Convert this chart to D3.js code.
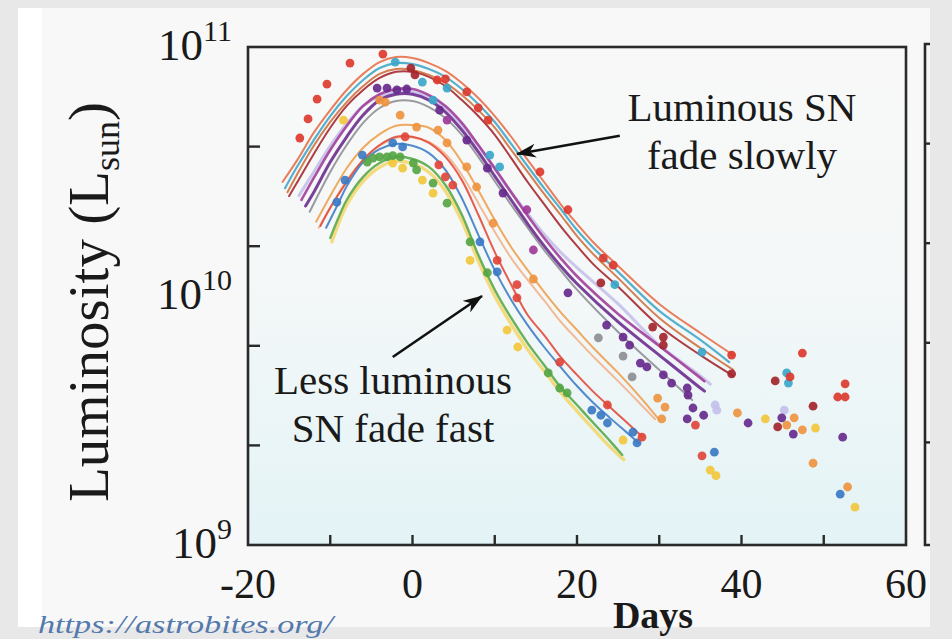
<!DOCTYPE html>
<html>
<head>
<meta charset="utf-8">
<script src="https://cdn.jsdelivr.net/npm/d3@7"></script>
<style>
  html, body { margin: 0; padding: 0; background: #e8e8e8; }
  svg { display: block; }
  text { font-family: "Liberation Serif", "Times New Roman", serif; fill: #1a1a1a; }
</style>
</head>
<body>
<svg id="chart" width="952" height="639"></svg>
<script>
// Type Ia supernova light curves: luminosity (units of 1e9 L_sun) vs days from peak.

// Axis ticks
const xTickDays = [-20, -10, 0, 10, 20, 30, 40, 50, 60];
const xTickLabels = [-20, 0, 20, 40, 60];
const yDecades = [1, 10, 100];          // 1e9, 1e10, 1e11 L_sun
const yDecadeExponents = [9, 10, 11];
const yMagnitudeSteps = [1, 2, 3, 4];   // minor ticks every magnitude (0.4 dex)

// Fitted light curves: [day, luminosity / 1e9 L_sun]
const curveOrangeRed = [[-15.8,28.7],[-14,35.2],[-12,45.3],[-10,55.8],[-8,67.2],[-6,78.0],[-4,87.0],[-2,91.2],[0,90.4],[2,86.2],[4,80.2],[6,71.7],[8,62.4],[10,52.8],[12,43.6],[14,35.2],[16,28.7],[18,23.4],[20,19.5],[22,16.4],[25,13.2],[30,9.29],[35,7.10],[39,5.79]];
const curveTeal = [[-15.5,27.1],[-14,33.2],[-12,42.3],[-10,52.8],[-8,63.5],[-6,73.7],[-4,82.3],[-2,86.2],[0,85.4],[2,81.6],[4,75.9],[6,67.8],[8,58.9],[10,50.0],[12,40.8],[14,33.2],[16,27.1],[18,22.4],[20,18.4],[22,15.6],[25,12.5],[30,8.72],[35,6.66],[38.5,5.43]];
const curveBrown = [[-15.2,26.1],[-14,30.9],[-12,40.1],[-10,50.0],[-8,60.1],[-6,69.7],[-4,78.0],[-2,81.6],[0,80.9],[2,77.3],[4,71.7],[6,64.1],[8,55.8],[10,47.4],[12,38.6],[14,31.5],[16,25.7],[18,21.2],[20,17.4],[22,14.7],[25,11.8],[30,8.16],[35,6.18],[39,5.05]];
const curveMaroon = [[-15,25.2],[-14,28.7],[-12,37.2],[-10,47.4],[-8,58.0],[-6,67.2],[-4,75.1],[-2,79.5],[0,79.5],[2,75.9],[4,69.7],[6,61.2],[8,52.8],[10,44.4],[12,35.8],[14,28.7],[16,23.4],[18,19.1],[20,15.9],[22,13.4],[25,10.9],[30,7.58],[35,5.79],[39,4.78]];
const curveViolet = [[-13.5,24.3],[-12,29.8],[-10,38.6],[-8,48.2],[-6,58.0],[-4,64.6],[-2,67.8],[0,67.8],[2,64.1],[4,58.0],[6,49.6],[8,40.4],[10,32.6],[12,26.1],[14,21.0],[16,17.1],[18,14.2],[20,12.0],[25,8.47],[30,6.30],[35,4.69],[35.5,4.55]];
const curvePurple = [[-13,23.0],[-12,26.1],[-10,34.5],[-8,43.6],[-6,53.3],[-4,61.2],[-2,64.6],[0,64.6],[2,61.2],[4,54.8],[6,46.4],[8,37.9],[10,30.3],[12,24.3],[14,19.5],[16,15.9],[18,13.2],[20,11.2],[25,7.87],[30,5.79],[35,4.27],[35.5,4.15]];
const curveLavender = [[-13.8,25.3],[-12,31.5],[-10,40.1],[-8,49.2],[-6,58.0],[-4,63.5],[-2,66.0],[0,66.0],[2,63.0],[4,56.9],[6,48.6],[8,40.1],[10,32.4],[12,26.1],[14,21.4],[16,17.7],[18,15.0],[20,13.0],[25,9.29],[30,6.35],[35,4.78],[36.2,4.43]];
const curveGray = [[-12.5,21.8],[-10,31.5],[-8,40.4],[-6,49.6],[-4,56.9],[-2,60.7],[0,60.7],[2,57.4],[4,51.9],[6,44.4],[8,36.2],[10,28.9],[12,23.2],[14,18.8],[16,15.3],[18,12.7],[20,10.6],[25,7.17],[30,5.05],[34,3.82]];
const curveOrange = [[-11.7,19.9],[-10,25.2],[-8,32.6],[-6,39.4],[-4,44.7],[-2,48.3],[0,48.6],[2,47.4],[4,42.3],[6,34.5],[8,26.6],[10,20.2],[12,15.7],[14,12.7],[16,10.4],[18,8.62],[20,7.30],[22,6.18],[25,4.91],[28,3.82],[30,3.18]];
const curvePeach = [[-11.4,18.8],[-10,22.6],[-8,29.2],[-6,35.2],[-4,40.1],[-2,43.1],[0,43.3],[2,41.6],[4,37.2],[6,30.6],[8,23.6],[10,18.1],[12,14.2],[14,11.6],[16,9.6],[18,7.9],[20,6.7],[22,5.7],[25,4.55],[28,3.6],[29.5,3.2]];
const curveRed = [[-11.2,19.1],[-10,22.6],[-8,28.7],[-6,35.2],[-4,40.4],[-2,43.6],[0,43.6],[2,41.2],[4,36.2],[6,29.2],[8,21.2],[10,15.0],[12,11.1],[14,8.39],[16,6.97],[18,5.69],[20,4.82],[22,4.12],[24,3.58],[26,3.12],[28,2.71]];
const curveBlue = [[-10.5,18.8],[-9,23.6],[-8,27.6],[-6,34.5],[-4,38.9],[-2,40.8],[0,40.1],[2,37.5],[4,32.1],[6,24.7],[8,17.6],[10,12.7],[12,9.64],[14,7.64],[16,6.24],[18,5.19],[20,4.35],[22,3.72],[24,3.24],[26,2.84],[27.5,2.57]];
const curveYellow = [[-9.8,16.5],[-8,23.2],[-6,28.9],[-4,32.9],[-2,34.8],[0,34.0],[2,31.4],[4,26.4],[6,20.0],[8,13.8],[10,10.0],[12,7.7],[14,6.1],[16,5.0],[18,4.1],[20,3.45],[22,2.92],[24,2.48],[25.7,2.2]];
const curveGreen = [[-10,17.1],[-9,20.6],[-8,24.3],[-6,30.1],[-4,34.2],[-2,36.2],[0,35.5],[2,33.0],[4,27.9],[6,21.2],[8,14.6],[10,10.6],[12,8.16],[14,6.47],[16,5.28],[18,4.31],[20,3.65],[22,3.09],[24,2.62],[25.5,2.30]];

// Observed photometry: [day, luminosity / 1e9 L_sun]
const dotsRed = [[-13.7,43.1],[-12.7,51.4],[-11.6,61.8],[-10.4,71.0],[-7.6,86.2],[-3.6,93.7],[3.0,73.7],[4.0,74.4],[6.6,66.0],[8.0,56.9],[9.2,50.9],[15.5,31.5],[18.9,22.2],[23.2,14.2],[24.4,13.3],[38.8,5.79],[47.4,5.9],[45.9,4.73],[52.6,4.44],[51.7,3.93],[52.6,3.93]];
const dotsMaroon = [[-0.2,82.3],[0.3,77.3],[22.9,11.3],[29.2,7.5],[30.5,6.84],[30.5,6.35],[38.8,4.87],[44.1,4.56],[48.7,3.61],[44.4,2.98]];
const dotsTeal = [[-2.1,87.0],[1.2,72.3],[4.2,68.4],[2.5,61.2],[9.4,36.8],[10.6,33.0],[24.6,11.1],[35.2,5.95],[45.5,4.91],[45.7,4.47]];
const dotsPurple = [[-4.3,68.4],[-3.1,68.4],[-1.9,67.2],[-0.7,67.8],[3.3,55.8],[6.6,42.3],[9.1,32.6],[11.0,25.9],[18.9,10.3],[23.6,7.64],[25.6,6.84],[26.4,6.35],[27.7,5.38],[28.5,5.19],[30.5,4.82],[31.5,4.47],[33.4,4.27],[33.5,4.0],[34.1,3.55],[35.4,3.32],[33.4,3.21],[40.8,3.09],[44.9,3.24],[46.3,2.79],[52.3,2.71]];
const dotsViolet = [[4.2,50.9],[13.9,22.2],[14.7,15.3]];
const dotsLavender = [[36.8,3.65],[37.0,3.48],[45.2,3.48]];
const dotsGray = [[22.6,6.79],[25.6,5.74],[26.7,4.73]];
const dotsOrange = [[-4.0,61.2],[-3.3,60.1],[-1.5,53.3],[0.5,47.7],[3.1,46.4],[4.2,41.2],[6.6,33.0],[7.8,27.4],[9.8,19.6],[14.7,11.7],[29.8,3.89],[30.7,3.58],[30.3,3.21],[39.5,3.39],[46.4,3.24],[45.5,3.03],[47.4,2.90],[48.7,2.13],[52.9,1.71]];
const dotsRedLow = [[-0.9,43.6],[3.2,33.6],[4.0,30.1],[4.9,27.9],[10.3,13.9],[12.7,11.1],[12.7,9.83],[17.9,5.43],[23.7,3.65],[27.9,2.71],[34.4,3.03],[35.2,2.28]];
const dotsBlue = [[-9.2,23.8],[-8.2,29.2],[-6.1,36.8],[-2.4,41.2],[-1.2,39.7],[8.2,16.5],[10.3,12.5],[21.8,3.48],[22.9,3.32],[23.7,3.09],[26.8,2.84],[27.3,2.57],[36.7,2.36],[52.0,1.60]];
const dotsGreen = [[-5.5,34.5],[-4.8,35.8],[-4.0,36.2],[-3.1,36.2],[-2.4,36.6],[-1.5,36.2],[0.1,34.2],[0.5,32.1],[2.5,28.4],[4.2,23.6],[7.0,16.5],[9.1,12.4],[16.5,4.91],[17.9,4.27],[18.8,4.08]];
const dotsYellow = [[-8.4,50.9],[-2.4,34.2],[-1.2,32.6],[1.2,29.2],[2.5,25.9],[7.0,13.9],[11.5,7.30],[12.8,6.24],[25.6,2.64],[42.9,3.21],[49.0,2.95],[36.2,2.0],[36.9,1.9],[53.8,1.42]];

// Annotation anchors: [day, luminosity / 1e9 L_sun]
const arrowSlow = [[25.2, 44.0], [12.7, 37.2]];
const arrowFast = [[-2.4, 5.69], [8.45, 10.0]];

// Styles
const curveStyles = [
  { data: curveYellow,    color: "#f3d257", width: 3.4, opacity: 0.75 },
  { data: curveGray,      color: "#8f8f95", width: 2,   opacity: 0.9 },
  { data: curveLavender,  color: "#c6c0ea", width: 3,   opacity: 0.9 },
  { data: curveViolet,    color: "#a23e99", width: 2.6, opacity: 0.9 },
  { data: curvePurple,    color: "#6c2c8e", width: 3,   opacity: 0.9 },
  { data: curveMaroon,    color: "#a5282f", width: 2,   opacity: 0.9 },
  { data: curveBrown,     color: "#d0703e", width: 2,   opacity: 0.9 },
  { data: curveTeal,      color: "#42a7c7", width: 2.2, opacity: 0.9 },
  { data: curveOrangeRed, color: "#e8704a", width: 2,   opacity: 0.9 },
  { data: curveOrange,    color: "#f0a04e", width: 2,   opacity: 0.9 },
  { data: curvePeach,     color: "#f3b38d", width: 2,   opacity: 0.9 },
  { data: curveRed,       color: "#e34b3d", width: 2,   opacity: 0.9 },
  { data: curveBlue,      color: "#3f7ec6", width: 2,   opacity: 0.9 },
  { data: curveGreen,     color: "#5aa84a", width: 2.4, opacity: 0.9 }
];
const dotStyles = [
  { data: dotsLavender, color: "#c4c0ec" },
  { data: dotsGray,     color: "#8e8e94" },
  { data: dotsYellow,   color: "#f2c73c" },
  { data: dotsOrange,   color: "#ee9440" },
  { data: dotsGreen,    color: "#55a545" },
  { data: dotsBlue,     color: "#3b79c4" },
  { data: dotsRedLow,   color: "#e0453a" },
  { data: dotsViolet,   color: "#a0389a" },
  { data: dotsPurple,   color: "#672a8c" },
  { data: dotsTeal,     color: "#3aa7c9" },
  { data: dotsMaroon,   color: "#a4252d" },
  { data: dotsRed,      color: "#dc3a2e" }
];

const svg = d3.select("#chart");
const W = 952, H = 639;
const plot = { left: 248, right: 906, top: 47, bottom: 545 };

const x = d3.scaleLinear().domain([-20, 60]).range([plot.left, plot.right]);
const y = d3.scaleLog().domain([1, 100]).range([plot.bottom, plot.top]);

const defs = svg.append("defs");
const grad = defs.append("linearGradient").attr("id", "plotBg")
  .attr("x1", 0).attr("y1", 0).attr("x2", 0).attr("y2", 1);
grad.append("stop").attr("offset", "0%").attr("stop-color", "#f8f8f8");
grad.append("stop").attr("offset", "45%").attr("stop-color", "#f5f8f8");
grad.append("stop").attr("offset", "100%").attr("stop-color", "#e3f3f6");
defs.append("clipPath").attr("id", "plotClip").append("rect")
  .attr("x", plot.left).attr("y", plot.top)
  .attr("width", plot.right - plot.left).attr("height", plot.bottom - plot.top);

// Page background and white card
svg.append("rect").attr("width", W).attr("height", H).attr("fill", "#e8e8e8");
svg.append("rect").attr("x", 18).attr("y", 8).attr("width", 912).attr("height", 619).attr("fill", "#f8f8f8");
svg.append("rect").attr("x", 18).attr("y", 8).attr("width", 24).attr("height", 619).attr("fill", "#ffffff");

// Plot background
svg.append("rect")
  .attr("x", plot.left).attr("y", plot.top)
  .attr("width", plot.right - plot.left).attr("height", plot.bottom - plot.top)
  .attr("fill", "url(#plotBg)");

// Light curves
const line = d3.line()
  .x(d => x(d[0]))
  .y(d => y(d[1]))
  .curve(d3.curveCatmullRom.alpha(0.5));

const gCurves = svg.append("g").attr("clip-path", "url(#plotClip)");
gCurves.selectAll("path.curve")
  .data(curveStyles)
  .join("path")
  .attr("class", "curve")
  .attr("d", d => line(d.data))
  .attr("fill", "none")
  .attr("stroke", d => d.color)
  .attr("stroke-width", d => d.width)
  .attr("stroke-linecap", "round")
  .attr("stroke-opacity", d => d.opacity);

// Observations
const gDots = svg.append("g").attr("clip-path", "url(#plotClip)");
dotStyles.forEach(s => {
  gDots.selectAll(null)
    .data(s.data)
    .join("circle")
    .attr("cx", d => x(d[0]))
    .attr("cy", d => y(d[1]))
    .attr("r", 4.4)
    .attr("fill", s.color)
    .attr("fill-opacity", 0.92);
});

// Frame
svg.append("rect")
  .attr("x", plot.left).attr("y", plot.top)
  .attr("width", plot.right - plot.left).attr("height", plot.bottom - plot.top)
  .attr("fill", "none").attr("stroke", "#2a2a2a").attr("stroke-width", 2.6);

// Bottom ticks (inward)
svg.append("g").selectAll("line")
  .data(xTickDays.slice(1, -1))
  .join("line")
  .attr("x1", d => x(d)).attr("x2", d => x(d))
  .attr("y1", plot.bottom).attr("y2", plot.bottom - 10)
  .attr("stroke", "#2a2a2a").attr("stroke-width", 2.4);

// Left ticks (inward), one per magnitude
const magValue = m => Math.pow(10, 0.4 * m);
svg.append("g").selectAll("line")
  .data(yMagnitudeSteps)
  .join("line")
  .attr("x1", plot.left).attr("x2", plot.left + 12)
  .attr("y1", d => y(magValue(d))).attr("y2", d => y(magValue(d)))
  .attr("stroke", "#2a2a2a").attr("stroke-width", 2.4);

// Neighbouring panel edge
const px = 925;
svg.append("path")
  .attr("d", `M${px + 8},${plot.top - 3} H${px} V${plot.bottom} H${px + 8}`)
  .attr("fill", "none").attr("stroke", "#2a2a2a").attr("stroke-width", 2.6);
svg.append("g").selectAll("line")
  .data(yMagnitudeSteps)
  .join("line")
  .attr("x1", px).attr("x2", px + 8)
  .attr("y1", d => y(magValue(d)) - 3).attr("y2", d => y(magValue(d)) - 3)
  .attr("stroke", "#2a2a2a").attr("stroke-width", 2.4);
// card edge over the neighbouring panel
svg.append("rect").attr("x", 930).attr("y", 0).attr("width", 22).attr("height", H).attr("fill", "#e8e8e8");

// X tick labels
svg.append("g").selectAll("text")
  .data(xTickLabels)
  .join("text")
  .attr("x", d => x(d))
  .attr("y", 598)
  .attr("text-anchor", "middle")
  .attr("font-size", 42)
  .text(d => d);

// Y decade labels with superscripts
const yLab = svg.append("g").selectAll("text")
  .data(yDecades)
  .join("text")
  .attr("x", 232)
  .attr("y", d => y(d) + 13)
  .attr("text-anchor", "end")
  .attr("font-size", 45);
yLab.append("tspan").text("10");
yLab.append("tspan")
  .attr("dy", -19)
  .attr("font-size", 30)
  .text((d, i) => yDecadeExponents[i]);

// Y axis title
const yTitle = svg.append("text")
  .attr("transform", `translate(108, ${(plot.top + plot.bottom) / 2 + 6}) rotate(-90)`)
  .attr("text-anchor", "middle")
  .attr("font-size", 57);
yTitle.append("tspan").text("Luminosity (L");
yTitle.append("tspan").attr("font-size", 36).attr("dy", 11).text("sun");
yTitle.append("tspan").attr("dy", -11).text(")");

// X axis title
svg.append("text")
  .attr("x", 653).attr("y", 628)
  .attr("text-anchor", "middle")
  .attr("font-size", 38)
  .attr("font-weight", "bold")
  .text("Days");

// Source link
svg.append("text")
  .attr("x", 38).attr("y", 633)
  .attr("font-size", 26)
  .attr("font-style", "italic")
  .attr("textLength", 295)
  .attr("lengthAdjust", "spacingAndGlyphs")
  .style("fill", "#5479ac")
  .text("https://astrobites.org/");

// Annotations
defs.append("marker")
  .attr("id", "arrowHead")
  .attr("viewBox", "0 0 20 14")
  .attr("refX", 19).attr("refY", 7)
  .attr("markerWidth", 20).attr("markerHeight", 14)
  .attr("markerUnits", "userSpaceOnUse")
  .attr("orient", "auto")
  .append("path")
  .attr("d", "M0,0 L20,7 L0,14 L6,7 Z")
  .attr("fill", "#111");

function arrow(pts) {
  svg.append("line")
    .attr("x1", x(pts[0][0])).attr("y1", y(pts[0][1]))
    .attr("x2", x(pts[1][0])).attr("y2", y(pts[1][1]))
    .attr("stroke", "#111").attr("stroke-width", 2.6)
    .attr("marker-end", "url(#arrowHead)");
}
arrow(arrowSlow);
arrow(arrowFast);

const note = (tx, ty, lines) => {
  const t = svg.append("text").attr("text-anchor", "middle").attr("font-size", 41);
  lines.forEach((s, i) => t.append("tspan").attr("x", tx).attr("y", ty + i * 48).text(s));
};
note(742, 121, ["Luminous SN", "fade slowly"]);
note(393, 394, ["Less luminous", "SN fade fast"]);
</script>
</body>
</html>
